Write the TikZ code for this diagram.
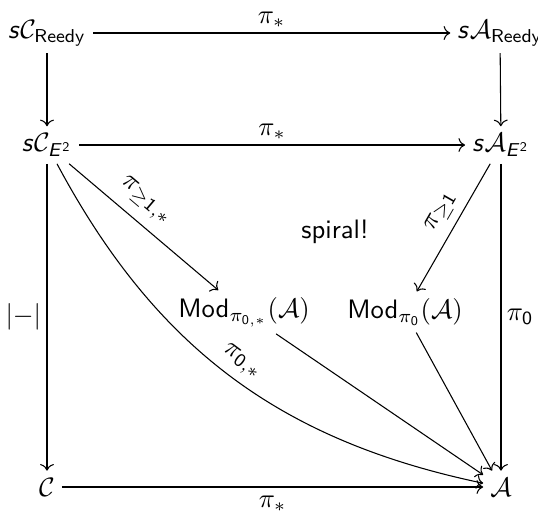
\documentclass[tikz,border=0pt]{standalone}
\usepackage{amsmath}
\usepackage{amssymb}
\usepackage{tikz}
\usetikzlibrary{arrows.meta}
\DeclareMathAlphabet{\mathsfit}{OT1}{cmss}{m}{sl}
\newcommand{\sfs}{\mathsfit{s}}

\begin{document}
\begin{tikzpicture}[x=0.375pt,y=-0.375pt,
      obj/.style={inner sep=2.5pt,font=\sffamily},
      lab/.style={inner sep=2pt},
      arrow/.style={-{To}}]
    \useasboundingbox (0,0) rectangle (538,510);
    \node[obj] (cR) at (47,33) {$\sfs\mathcal{C}_{\mathsf{Reedy}}$};
    \node[obj] (aR) at (500,33) {$\sfs\mathcal{A}_{\mathsf{Reedy}}$};
    \node[obj] (cE) at (47,145) {$\sfs\mathcal{C}_{\mathsfit{E}^{\mathsf{2}}}$};
    \node[obj] (aE) at (501,145) {$\sfs\mathcal{A}_{\mathsfit{E}^{\mathsf{2}}}$};
    \node[obj] (m1) at (244,312) {$\mathsf{Mod}_{\pi_{\mathsf{0},*}}(\mathcal{A})$};
    \node[obj] (m0) at (405,312) {$\mathsf{Mod}_{\pi_{\mathsf{0}}}(\mathcal{A})$};
    \node[obj] (sp) at (335,232) {spiral!};
    \node[obj] (C) at (47,487) {$\mathcal{C}$};
    \node[obj] (A) at (501,487) {$\mathcal{A}$};
    % top square
    \draw[arrow] (cR) -- node[lab,above] {$\pi_*$} (aR);
    \draw[arrow] (cR) -- (cE);
    \draw[arrow] (aR) -- (aE);
    \draw[arrow] (cE) -- node[lab,above] {$\pi_*$} (aE);
    % spiral
    \draw[arrow] (cE) -- node[lab,sloped,above,pos=0.42,inner sep=4pt] {$\pi_{\geq\mathsf{1},*}$} (m1);
    \draw[arrow] (aE) -- node[lab,sloped,above,pos=0.45,inner sep=3pt] {$\pi_{\geq\mathsf{1}}$} (m0);
    \draw[arrow] (m1) -- (A);
    \draw[arrow] (m0) -- (A);
    \draw[arrow] (cE) to[bend right=25] node[lab,sloped,above,pos=0.5,inner sep=3pt] {$\pi_{\mathsf{0},*}$} (A);
    % bottom
    \draw[arrow] (cE) -- node[lab,left] {$|{-}|$} (C);
    \draw[arrow] (aE) -- node[lab,right] {$\pi_{\mathsf{0}}$} (A);
    \draw[arrow] (C) -- node[lab,below,inner sep=3pt] {$\pi_*$} (A);
\end{tikzpicture}
\end{document}
